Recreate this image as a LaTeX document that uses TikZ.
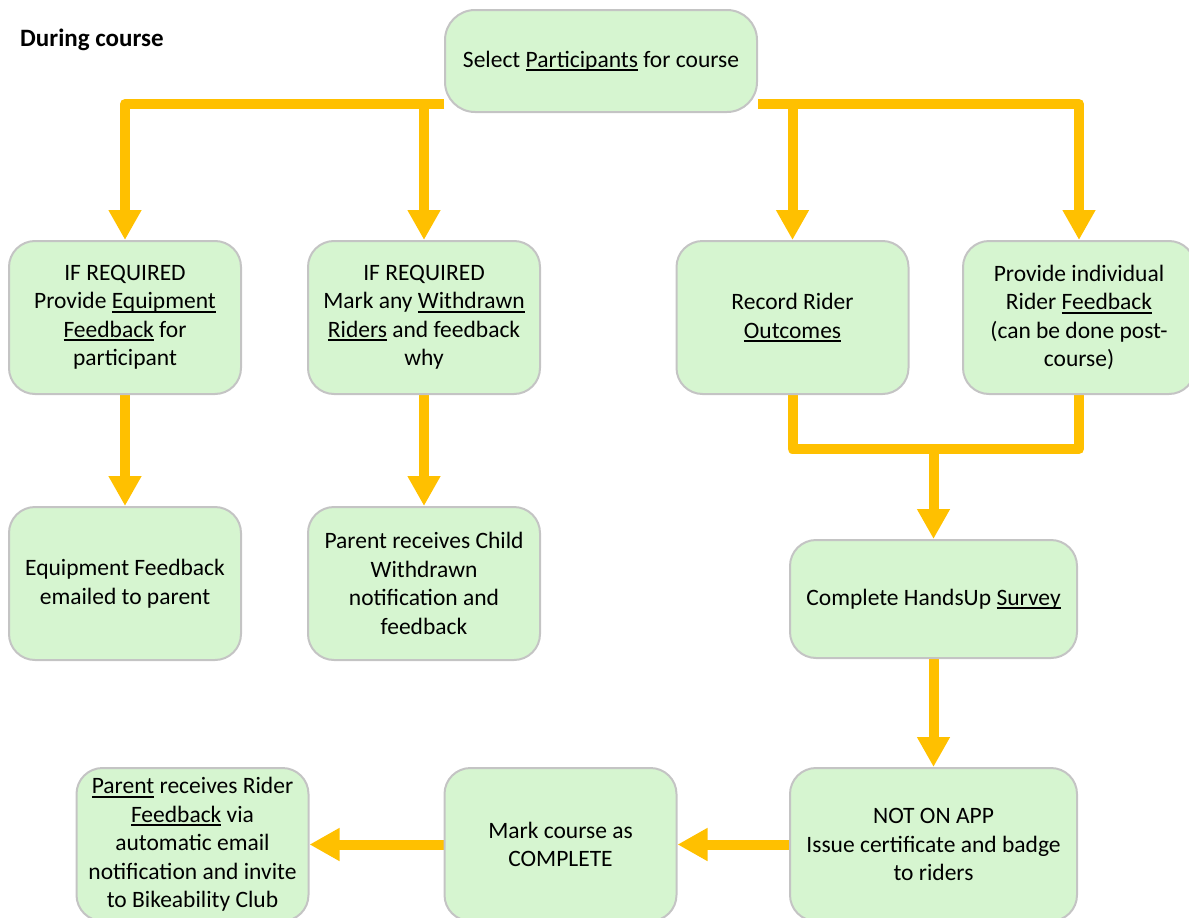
\documentclass[tikz,border=0pt]{standalone}
\usepackage{fontspec}
\setmainfont{Carlito}
\usepackage{xcolor}
\usepackage{tikz}
\usetikzlibrary{arrows.meta,positioning,calc,backgrounds}

\definecolor{boxfill}{RGB}{214,245,208}
\definecolor{boxline}{RGB}{196,196,196}
\definecolor{flowyellow}{RGB}{255,192,0}

\newcommand{\undl}[1]{\setbox0\hbox{#1}\rlap{\rule[-3.8pt]{\wd0}{1.8pt}}\box0\relax}

\begin{document}
\begin{tikzpicture}[
    x=1pt, y=-1pt,
    node distance=111pt,
    font=\fontsize{23.5pt}{28.5pt}\selectfont,
    box/.style={rectangle, rounded corners=26pt, draw=boxline, line width=2pt, fill=boxfill,
        align=center, minimum width=232pt, minimum height=153pt, inner sep=0pt},
    arrow/.style={-{Triangle[width=31pt,length=30pt]}, draw=flowyellow, line width=10pt, line join=round}
]
    \path[use as bounding box, clip] (0,0) rectangle (1189,918);

    \node[anchor=west, inner sep=0pt, font=\fontsize{25pt}{28.5pt}\selectfont\bfseries] (title) at (20,40) {During course};

    \node[box, minimum width=312pt, minimum height=102pt, rounded corners=30pt] (select) at (601,61) {Select \undl{Participants} for course};

    \node[box] (equip) at (125,317.5) {IF REQUIRED\\Provide \undl{Equipment}\\\undl{Feedback} for\\participant};
    \node[box] (withdraw) at (424,317.5) {IF REQUIRED\\Mark any \undl{Withdrawn}\\\undl{Riders} and feedback\\why};
    \node[box] (outcomes) at (792.5,317.5) {Record Rider\\\undl{Outcomes}};
    \node[box] (riderfb) at (1079,317.5) {Provide individual\\Rider \undl{Feedback}\\(can be done post-\\course)};

    \node[box, below=of equip] (equipmail) {Equipment Feedback\\emailed to parent};
    \node[box, below=of withdraw] (parentnote) {Parent receives Child\\Withdrawn\\notification and\\feedback};

    \node[box, minimum width=287pt, minimum height=118pt] (survey) at (933.5,599) {Complete HandsUp \undl{Survey}};
    \node[box, minimum width=287pt] (certificate) at (933.5,844.5) {NOT ON APP\\Issue certificate and badge\\to riders};
    \node[box] (complete) at (560.5,844.5) {Mark course as\\COMPLETE};
    \node[box] (parentfb) at (192.5,844.5) {\undl{Parent} receives Rider\\\undl{Feedback} via\\automatic email\\notification and invite\\to Bikeability Club};

    \coordinate (merge) at (933.5,449);

    \begin{scope}[on background layer]
        \draw[arrow] ([yshift=-43pt]select.west) -| (equip.north);
        \draw[arrow] ([yshift=-43pt]select.west) -| (withdraw.north);
        \draw[arrow] ([yshift=-43pt]select.east) -| (outcomes.north);
        \draw[arrow] ([yshift=-43pt]select.east) -| (riderfb.north);
        \draw[arrow] (equip) -- (equipmail);
        \draw[arrow] (withdraw) -- (parentnote);
        \draw[draw=flowyellow, line width=10pt, line join=round] (outcomes.south) |- (merge) -| (riderfb.south);
        \draw[arrow] (merge) -- (survey.north);
        \draw[arrow] (survey) -- (certificate);
        \draw[arrow] (certificate) -- (complete);
        \draw[arrow] (complete) -- (parentfb);
    \end{scope}
\end{tikzpicture}
\end{document}
